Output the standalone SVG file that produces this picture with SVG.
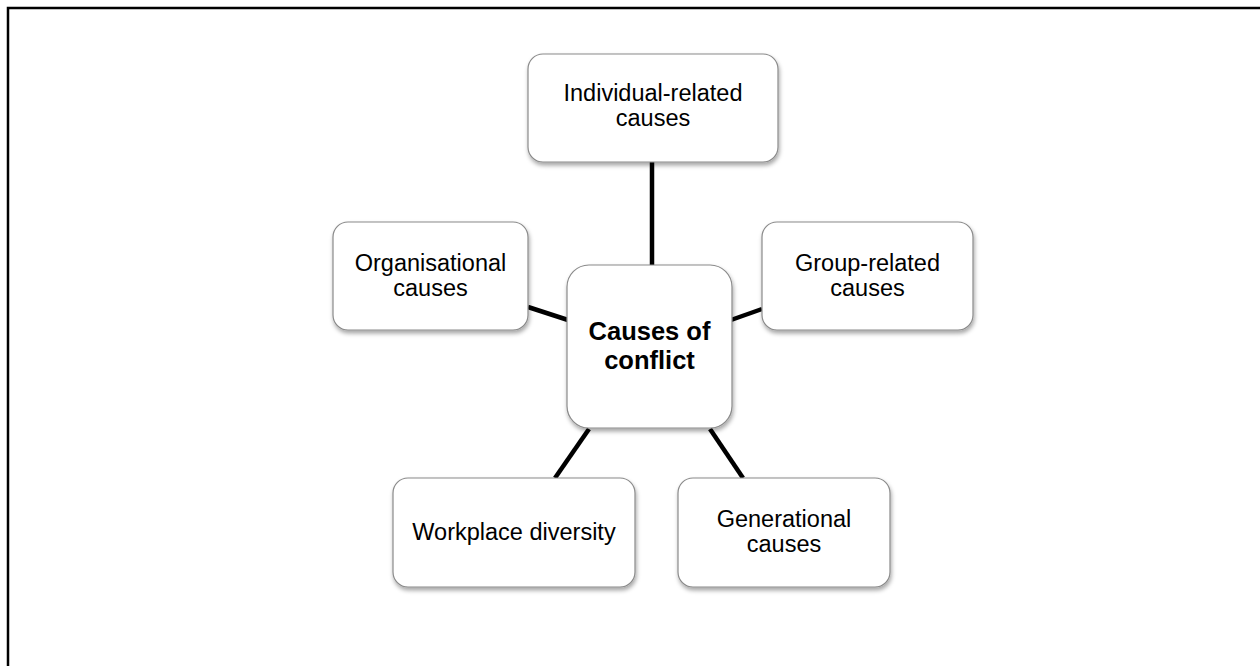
<svg xmlns="http://www.w3.org/2000/svg" width="1260" height="666" viewBox="0 0 1260 666">
  <defs>
    <filter id="sh" x="-10%" y="-10%" width="125%" height="130%">
      <feDropShadow dx="1" dy="3" stdDeviation="2" flood-color="#000" flood-opacity="0.35"/>
    </filter>
    <style>
      .box { fill: #ffffff; stroke: #8a8a8a; stroke-width: 1.2; filter: url(#sh); }
      .lbl { font-family: "Liberation Sans", Arial, sans-serif; font-size: 23.5px; fill: #000; text-anchor: middle; }
      .main { font-family: "Liberation Sans", Arial, sans-serif; font-size: 25.5px; font-weight: bold; fill: #000; text-anchor: middle; }
      .conn line { stroke: #000; stroke-width: 4.5; }
    </style>
  </defs>
  <rect x="0" y="0" width="1260" height="666" fill="#ffffff"/>
  <rect x="8" y="8" width="1262" height="670" fill="none" stroke="#000" stroke-width="2.5"/>

  <g id="connectors" class="conn">
    <line x1="652" y1="162" x2="652" y2="266"/>
    <line x1="528" y1="307" x2="568" y2="320"/>
    <line x1="731" y1="320" x2="762" y2="309"/>
    <line x1="589" y1="429" x2="555" y2="478"/>
    <line x1="710" y1="429" x2="743" y2="478"/>
  </g>

  <g id="node-individual">
    <rect class="box" x="528" y="54" width="250" height="108" rx="15"/>
    <text class="lbl" x="653" y="101">Individual-related</text>
    <text class="lbl" x="653" y="126">causes</text>
  </g>

  <g id="node-organisational">
    <rect class="box" x="333" y="222" width="195" height="108" rx="15"/>
    <text class="lbl" x="430.5" y="271">Organisational</text>
    <text class="lbl" x="430.5" y="296">causes</text>
  </g>

  <g id="node-group">
    <rect class="box" x="762" y="222" width="211" height="108" rx="15"/>
    <text class="lbl" x="867.5" y="271">Group-related</text>
    <text class="lbl" x="867.5" y="296">causes</text>
  </g>

  <g id="node-center">
    <rect class="box" x="567" y="265" width="165" height="163" rx="22"/>
    <text class="main" x="649.5" y="340">Causes of</text>
    <text class="main" x="649.5" y="369">conflict</text>
  </g>

  <g id="node-workplace">
    <rect class="box" x="393" y="478" width="242" height="109" rx="15"/>
    <text class="lbl" x="514" y="540">Workplace diversity</text>
  </g>

  <g id="node-generational">
    <rect class="box" x="678" y="478" width="212" height="109" rx="15"/>
    <text class="lbl" x="784" y="527">Generational</text>
    <text class="lbl" x="784" y="552">causes</text>
  </g>
</svg>
